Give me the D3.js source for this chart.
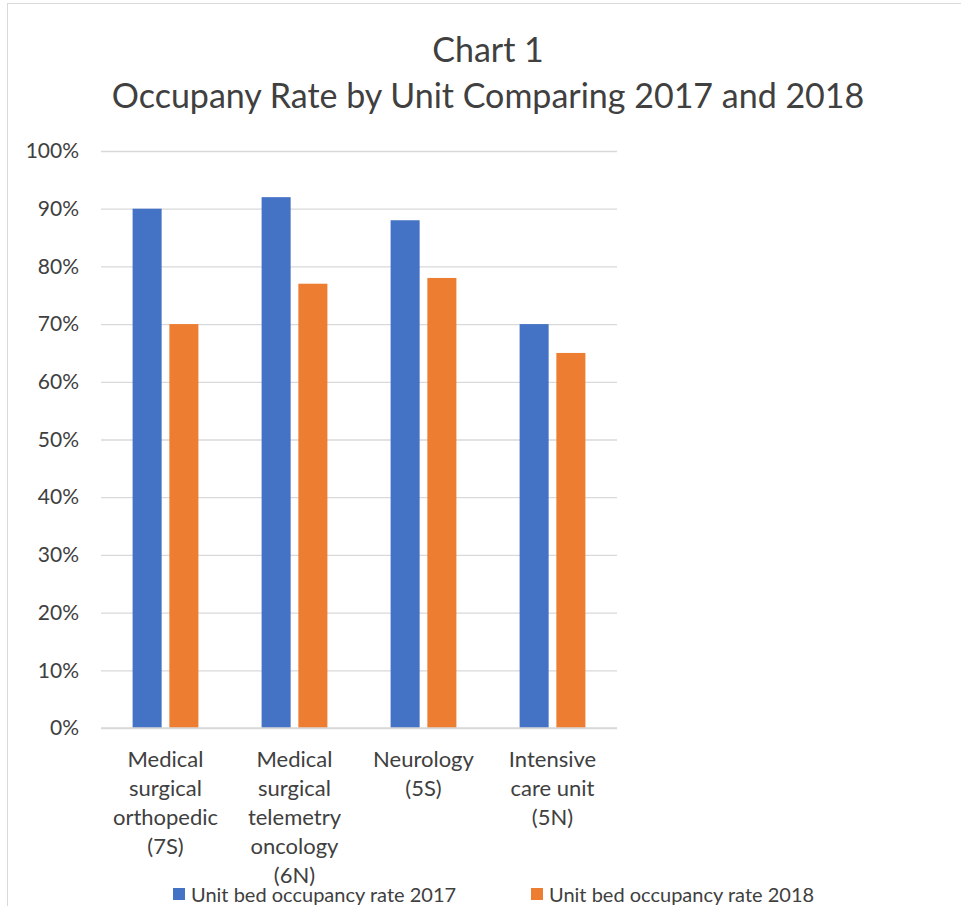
<!DOCTYPE html>
<html>
<head>
<meta charset="utf-8">
<script src="https://cdn.jsdelivr.net/npm/d3@7"></script>
<style>
  body { margin: 0; background: #fff; }
  text { font-family: Lato, "Open Sans", sans-serif; fill: #404040; }
</style>
</head>
<body>
<div id="chart"></div>
<script>
// data
var categories = ["7S", "6N", "5S", "5N"];
var categoryLines = [
  ["Medical", "surgical", "orthopedic", "(7S)"],
  ["Medical", "surgical", "telemetry", "oncology", "(6N)"],
  ["Neurology", "(5S)"],
  ["Intensive", "care unit", "(5N)"]
];
var seriesNames = ["Unit bed occupancy rate 2017", "Unit bed occupancy rate 2018"];
var rate2017 = [0.90, 0.92, 0.88, 0.70];
var rate2018 = [0.70, 0.77, 0.78, 0.65];
var yTicks = [0, 0.1, 0.2, 0.3, 0.4, 0.5, 0.6, 0.7, 0.8, 0.9, 1.0];
var titleLines = ["Chart 1", "Occupany Rate by Unit Comparing 2017 and 2018"];

var colors = ["#4472C4", "#ED7D31"];

var W = 961, H = 906;
var plot = { left: 101, right: 617, top: 151, bottom: 728 };

var svg = d3.select("#chart")
  .append("svg")
  .attr("width", W)
  .attr("height", H);

// outer chart border (only top and left show in the crop)
svg.append("line")
  .attr("x1", 7).attr("x2", W).attr("y1", 3.5).attr("y2", 3.5)
  .attr("stroke", "#d9d9d9");
svg.append("line")
  .attr("x1", 7.5).attr("x2", 7.5).attr("y1", 3).attr("y2", H)
  .attr("stroke", "#d9d9d9");

// title
svg.append("g")
  .selectAll("text")
  .data(titleLines)
  .join("text")
  .attr("x", 488)
  .attr("y", (d, i) => 62 + i * 46)
  .attr("text-anchor", "middle")
  .style("font-size", "34px")
  .text(d => d);

var x = d3.scaleBand()
  .domain(categories)
  .range([plot.left, plot.right])
  .paddingInner(0.49)
  .paddingOuter(0.245);

var xInner = d3.scaleBand()
  .domain([0, 1])
  .range([0, x.bandwidth()])
  .paddingInner(0.21);

var y = d3.scaleLinear()
  .domain([0, 1])
  .range([plot.bottom, plot.top]);

// gridlines + y labels
var yAxis = svg.append("g")
  .attr("transform", "translate(" + plot.left + ",0)")
  .call(d3.axisLeft(y)
    .tickValues(yTicks)
    .tickFormat(d3.format(".0%"))
    .tickSize(-(plot.right - plot.left))
    .tickPadding(22));
yAxis.select(".domain").remove();
yAxis.selectAll(".tick line").attr("stroke", "#d9d9d9").attr("stroke-width", 1.3);
yAxis.selectAll(".tick text")
  .style("font-size", "21px")
  .attr("fill", "#404040");

// bars
var series = [rate2017, rate2018];
svg.append("g")
  .selectAll("g")
  .data(series)
  .join("g")
  .attr("fill", (d, i) => colors[i])
  .each(function(vals, si) {
    d3.select(this).selectAll("rect")
      .data(vals)
      .join("rect")
      .attr("x", (d, i) => x(categories[i]) + xInner(si))
      .attr("width", xInner.bandwidth())
      .attr("y", d => y(d))
      .attr("height", d => y(0) - y(d));
  });

// baseline
svg.append("line")
  .attr("x1", plot.left).attr("x2", plot.right)
  .attr("y1", plot.bottom).attr("y2", plot.bottom)
  .attr("stroke", "#d9d9d9").attr("stroke-width", 1.3);

// category labels
svg.append("g")
  .selectAll("text")
  .data(categories)
  .join("text")
  .attr("text-anchor", "middle")
  .style("font-size", "22px")
  .each(function(c, i) {
    var cx = x(c) + x.bandwidth() / 2;
    d3.select(this).selectAll("tspan")
      .data(categoryLines[i])
      .join("tspan")
      .attr("x", cx)
      .attr("y", (d, j) => 767 + j * 29)
      .text(d => d);
  });

// legend
var legendX = [173, 531];
var legend = svg.append("g")
  .selectAll("g")
  .data(seriesNames)
  .join("g")
  .attr("transform", (d, i) => "translate(" + legendX[i] + ",0)");
legend.append("rect")
  .attr("y", 888)
  .attr("width", 12).attr("height", 12)
  .attr("fill", (d, i) => colors[i]);
legend.append("text")
  .attr("x", 18)
  .attr("y", 902)
  .style("font-size", "20px")
  .text(d => d);
</script>
</body>
</html>
